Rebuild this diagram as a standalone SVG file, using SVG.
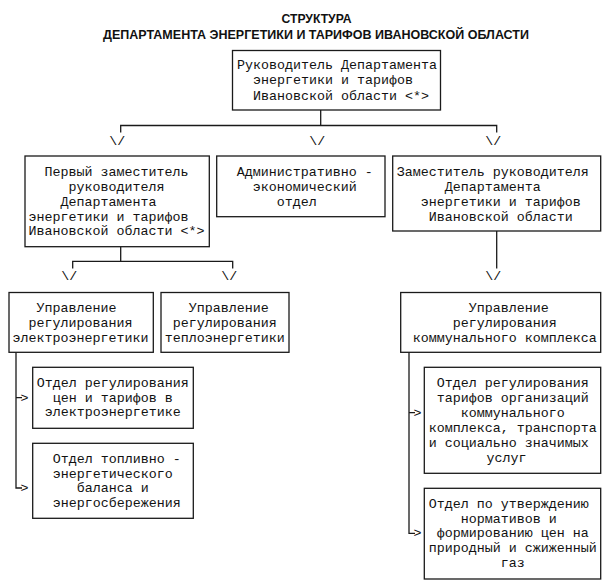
<svg xmlns="http://www.w3.org/2000/svg" width="612" height="584" viewBox="0 0 612 584">
<style>
.bg{fill:#ffffff}
.box{fill:#ffffff;stroke:#1a1a1a;stroke-width:1.3}
.ln{fill:none;stroke:#1a1a1a;stroke-width:1.3}
.t{font-family:"Liberation Mono","Courier New",monospace;font-size:13.33px;fill:#111}
.h{font-family:"Liberation Sans",Arial,sans-serif;font-size:12.5px;font-weight:bold;fill:#111;text-anchor:middle}
</style>
<rect class="bg" x="0" y="0" width="612" height="584"/>
<g id="title">
<text class="h" x="316.5" y="22.5" textLength="70" lengthAdjust="spacingAndGlyphs">СТРУКТУРА</text>
<text class="h" x="316" y="38.5" textLength="426" lengthAdjust="spacingAndGlyphs">ДЕПАРТАМЕНТА ЭНЕРГЕТИКИ И ТАРИФОВ ИВАНОВСКОЙ ОБЛАСТИ</text>
</g>
<g id="connectors">
<path class="ln" d="M320.7,110 V125.5 M120.7,132.5 V125.5 H496.7 V132.5"/>
<path class="ln" d="M120.7,246.7 V261.3 M72.7,268.5 V261.3 H232.7 V268.5"/>
<path class="ln" d="M496.7,231 V268.5"/>
<path class="ln" d="M16,352.3 V488 H22 M16,397.7 H22"/>
<path class="ln" d="M409,352.3 V533.3 H415 M409,412.7 H415"/>
<text class="t" x="109.2" y="145">\/</text>
<text class="t" x="309.2" y="145">\/</text>
<text class="t" x="485.2" y="145">\/</text>
<text class="t" x="61.2" y="280">\/</text>
<text class="t" x="221.2" y="280">\/</text>
<text class="t" x="485.2" y="280">\/</text>
<text class="t" x="20.5" y="401.5">&gt;</text>
<text class="t" x="20.5" y="491.8">&gt;</text>
<text class="t" x="413.5" y="416.5">&gt;</text>
<text class="t" x="413.5" y="537.1">&gt;</text>
</g>
<g id="n0">
<rect class="box" x="232.5" y="50.5" width="208" height="59.5"/>
<text class="t" x="237" y="69">Руководитель Департамента</text>
<text class="t" x="253" y="84.3">энергетики и тарифов</text>
<text class="t" x="253" y="99.7">Ивановской области &lt;*&gt;</text>
</g>
<g id="n1">
<rect class="box" x="25" y="156" width="184.3" height="90.7"/>
<text class="t" x="44.5" y="175.7">Первый заместитель</text>
<text class="t" x="68.5" y="190.7">руководителя</text>
<text class="t" x="60.5" y="205.7">Департамента</text>
<text class="t" x="28.5" y="220.7">энергетики и тарифов</text>
<text class="t" x="28.5" y="235.3">Ивановской области &lt;*&gt;</text>
</g>
<g id="n2">
<rect class="box" x="216.7" y="156" width="168.3" height="60.7"/>
<text class="t" x="236.8" y="175.7">Административно -</text>
<text class="t" x="252.8" y="190.7">экономический</text>
<text class="t" x="276.8" y="205.7">отдел</text>
</g>
<g id="n3">
<rect class="box" x="392.7" y="156" width="208" height="75"/>
<text class="t" x="396.8" y="175.7">Заместитель руководителя</text>
<text class="t" x="444.8" y="190.7">Департамента</text>
<text class="t" x="420.8" y="205.7">энергетики и тарифов</text>
<text class="t" x="428.8" y="220.7">Ивановской области</text>
</g>
<g id="n4">
<rect class="box" x="9" y="292.5" width="144.3" height="59.8"/>
<text class="t" x="36.5" y="311.7">Управление</text>
<text class="t" x="28.5" y="326.7">регулирования</text>
<text class="t" x="12.5" y="341.7">электроэнергетики</text>
</g>
<g id="n5">
<rect class="box" x="161" y="292.5" width="128" height="59.8"/>
<text class="t" x="188.8" y="311.7">Управление</text>
<text class="t" x="172.8" y="326.7">регулирования</text>
<text class="t" x="164.8" y="341.7">теплоэнергетики</text>
</g>
<g id="n6">
<rect class="box" x="400.7" y="292.5" width="200" height="59.8"/>
<text class="t" x="468.8" y="311.7">Управление</text>
<text class="t" x="452.8" y="326.7">регулирования</text>
<text class="t" x="412.8" y="341.7">коммунального комплекса</text>
</g>
<g id="n7">
<rect class="box" x="32.7" y="367.3" width="160.6" height="61"/>
<text class="t" x="36.8" y="386.9">Отдел регулирования</text>
<text class="t" x="52.8" y="401.7">цен и тарифов в</text>
<text class="t" x="44.8" y="416.4">электроэнергетике</text>
</g>
<g id="n8">
<rect class="box" x="424.3" y="367.3" width="176.4" height="106"/>
<text class="t" x="436.8" y="386.7">Отдел регулирования</text>
<text class="t" x="436.8" y="401.7">тарифов организаций</text>
<text class="t" x="460.8" y="416.7">коммунального</text>
<text class="t" x="428.8" y="432">комплекса, транспорта</text>
<text class="t" x="428.8" y="447.3">и социально значимых</text>
<text class="t" x="486.5" y="462.3">услуг</text>
</g>
<g id="n9">
<rect class="box" x="32.7" y="443.3" width="160.6" height="75"/>
<text class="t" x="52.8" y="463">Отдел топливно -</text>
<text class="t" x="52.8" y="477.5">энергетического</text>
<text class="t" x="76.8" y="492.3">баланса и</text>
<text class="t" x="52.8" y="507.3">энергосбережения</text>
</g>
<g id="n10">
<rect class="box" x="424.3" y="488.3" width="176.4" height="90.7"/>
<text class="t" x="428.8" y="508">Отдел по утверждению</text>
<text class="t" x="460.8" y="523">нормативов и</text>
<text class="t" x="436.8" y="537.3">формированию цен на</text>
<text class="t" x="428.8" y="552.3">природный и сжиженный</text>
<text class="t" x="500.8" y="567.3">газ</text>
</g>
</svg>
